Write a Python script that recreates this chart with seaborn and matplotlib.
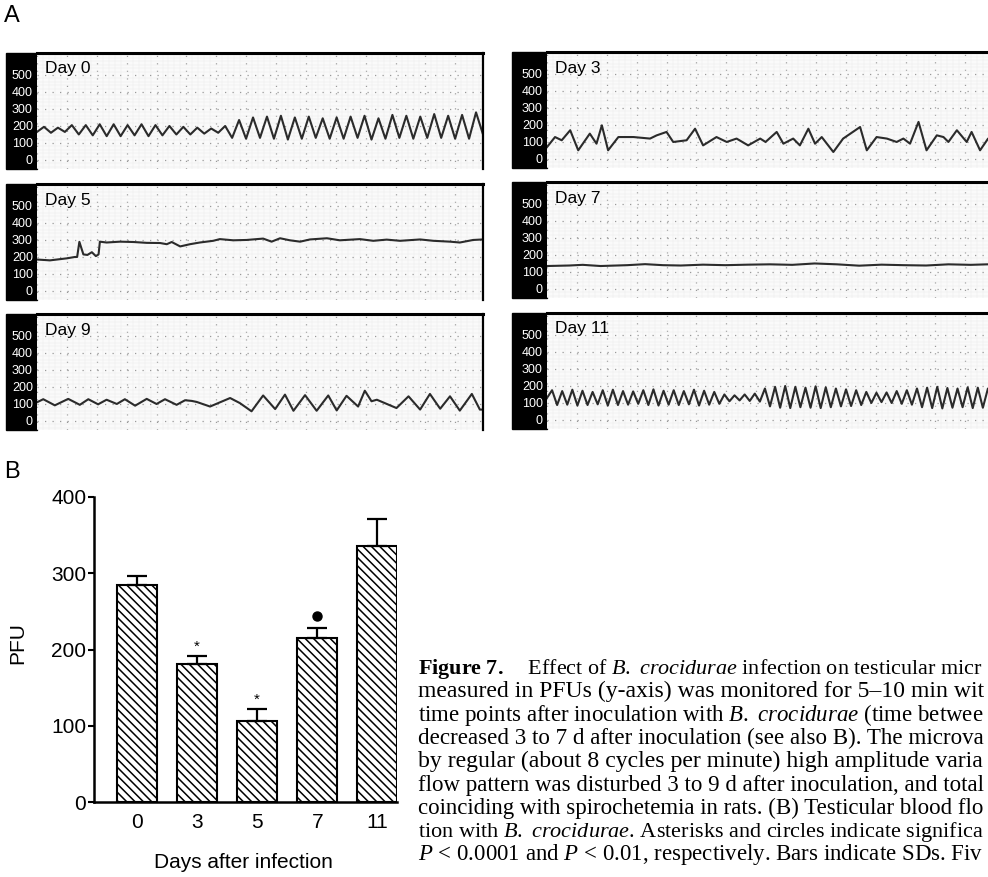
import numpy as np
import pandas as pd
import matplotlib
matplotlib.use("Agg")
import matplotlib.pyplot as plt
import seaborn as sns
from matplotlib.patches import Rectangle

# fonts: sans for the panels, serif for the legend text
plt.rcParams['font.family'] = ['Liberation Sans', 'DejaVu Sans']
plt.rcParams['hatch.linewidth'] = 1.1
plt.rcParams['mathtext.fontset'] = 'custom'
plt.rcParams['mathtext.rm'] = 'Liberation Serif'
plt.rcParams['mathtext.it'] = 'Liberation Serif:italic'
plt.rcParams['mathtext.bf'] = 'Liberation Serif:bold'

# ---- panel A : flow traces (PFU vs % of recording window) ----
day0_v = [165, 195, 160, 190, 165, 205, 150, 205, 145, 210, 140, 210, 140, 205, 145, 210, 140,
          205, 145, 200, 150, 195, 150, 190, 155, 185, 160, 200, 130, 235, 125, 250, 130,
          255, 125, 260, 120, 250, 125, 255, 130, 245, 125, 250, 125, 255, 130, 260, 120,
          245, 125, 265, 130, 260, 125, 255, 130, 270, 130, 260, 125, 265, 125, 280, 150]

day3_t = [0, 1.8, 3.3, 5.2, 7.0, 9.6, 11.1, 12.3, 13.7, 16.0, 19.4, 23.1, 24.6, 26.8, 28.3,
          31.3, 33.2, 35.0, 38.0, 40.3, 42.5, 45.1, 47.8, 49.0, 51.5, 53.0, 55.2, 56.7, 58.6,
          60.1, 61.6, 64.2, 66.4, 70.2, 71.7, 73.9, 76.2, 78.4, 79.9, 81.4, 83.3, 85.1, 87.4,
          88.9, 90.0, 91.9, 94.1, 95.2, 97.1, 98.9, 100]
day3_v = [70, 129, 110, 169, 51, 149, 90, 198, 51, 129, 129, 120, 139, 159, 100,
          110, 178, 80, 129, 100, 120, 80, 120, 100, 159, 90, 120, 80, 178,
          90, 129, 41, 120, 188, 51, 129, 120, 100, 120, 90, 218, 51, 139,
          129, 100, 169, 100, 159, 51, 120, 110]

day5_t = [0, 2.9, 6.7, 8.5, 9.0, 9.5, 10.4, 11.3, 12.3, 13.2, 13.8, 14.1, 15.6, 18.6, 21.6,
          24.6, 27.6, 29.1, 30.2, 32.1, 34.3, 36.5, 39.5, 41.0, 44.0, 47.0, 50.7, 52.6, 54.5,
          56.7, 59.0, 61.2, 65.0, 67.9, 72.4, 75.4, 78.4, 81.4, 85.9, 88.9, 92.6, 94.8, 97.8, 100]
day5_v = [185, 180, 192, 200, 200, 289, 215, 212, 228, 205, 215, 290, 285, 290, 288,
          283, 282, 275, 288, 262, 275, 285, 295, 305, 298, 300, 308, 290, 310,
          298, 290, 303, 310, 298, 305, 295, 302, 295, 303, 295, 290, 285, 300, 303]

day7_t = [0, 5, 8, 12, 18, 22, 26, 30, 35, 40, 45, 50, 55, 60, 65, 70, 75, 80, 85, 90, 95, 100]
day7_v = [135, 138, 142, 135, 140, 146, 140, 138, 143, 140, 143, 145, 142, 150, 145, 137,
          143, 140, 138, 145, 142, 146]

day9_t = [0, 1.4, 4.0, 7.0, 9.6, 11.5, 13.7, 15.6, 17.9, 19.7, 22.0, 24.6, 26.8, 28.7, 31.3,
          33.2, 34.7, 35.8, 38.8, 43.3, 45.5, 48.1, 50.7, 53.4, 55.6, 57.5, 60.1, 62.7, 65.3,
          67.2, 69.4, 72.0, 73.5, 75.0, 76.2, 80.6, 83.3, 85.9, 88.1, 90.4, 92.6, 94.8, 97.5,
          99.3, 100]
day9_v = [110, 128, 92, 130, 95, 128, 98, 125, 100, 128, 90, 130, 100, 128, 95,
          122, 118, 112, 85, 135, 105, 57, 150, 70, 155, 60, 152, 60, 150,
          62, 148, 85, 178, 116, 125, 76, 145, 67, 159, 72, 145, 61, 159,
          67, 67]

day11_v = [130, 175, 88, 170, 90, 178, 85, 172, 88, 165, 92, 175, 85, 178, 88, 170, 90,
           168, 95, 175, 88, 180, 85, 172, 90, 175, 88, 170, 92, 178, 85, 172, 90, 165, 95,
           150, 110, 145, 115, 150, 112, 155, 108,
           185, 80, 195, 72, 200, 70, 195, 75, 190, 72, 198, 70, 192, 75, 185, 80, 180, 82,
           175, 88, 165, 100, 160, 105, 162, 100, 170, 95, 175, 90,
           185, 75, 190, 70, 195, 68, 188, 72, 185, 75, 192, 70, 190, 72, 185, 78]

# ---- panel B : mean PFU and SD ----
days = ["0", "3", "5", "7", "11"]
pfu_mean = [284, 181, 106, 215, 336]
pfu_sd = [13, 10, 16, 13, 35]
marks = ["", "*", "*", "o", ""]

# legend text, as far as it is visible (the page is cut at the right edge)
caption = [
    r"$\mathbf{Figure\ 7.}$    Effect of $\mathit{B.}$ $\mathit{crocidurae}$ infection on testicular micr",
    r"measured in PFUs (y-axis) was monitored for 5–10 min wit",
    r"time points after inoculation with $\mathit{B.}$ $\mathit{crocidurae}$ (time betwee",
    r"decreased 3 to 7 d after inoculation (see also B). The microva",
    r"by regular (about 8 cycles per minute) high amplitude varia",
    r"flow pattern was disturbed 3 to 9 d after inoculation, and total",
    r"coinciding with spirochetemia in rats. (B) Testicular blood flo",
    r"tion with $\mathit{B.}$ $\mathit{crocidurae}$. Asterisks and circles indicate significa",
    r"$\mathit{P}$ < 0.0001 and $\mathit{P}$ < 0.01, respectively. Bars indicate SDs. Fiv",
]

W, H = 988, 877
fig = plt.figure(figsize=(W / 100, H / 100), dpi=100)


def fbox(x0, y0, x1, y1):
    return [x0 / W, 1 - y1 / H, (x1 - x0) / W, (y1 - y0) / H]


def strip_panel(x0, top, strip_w, label, t, v):
    ax = fig.add_axes(fbox(x0, top, x0 + 446, top + 116))
    fig.add_artist(Rectangle(((x0 - strip_w) / W, 1 - (top + 116) / H),
                             strip_w / W, 116 / H, transform=fig.transFigure,
                             color='black', zorder=-1))
    ax.set_facecolor('#fafafa')
    sns.lineplot(x=t, y=v, ax=ax, color='#2b2b2b', lw=1.5, estimator=None, sort=False)
    for ln in ax.lines:
        ln.set_solid_joinstyle('round')
    ax.set_xlim(0, 100)
    ax.set_ylim(-53, 629)
    ax.set_yticks([0, 100, 200, 300, 400, 500])
    ax.set_yticks(np.arange(-40, 629, 20), minor=True)
    ax.set_xticks(np.arange(0, 100, 6.7))
    ax.set_xticks(np.arange(0, 100, 1.34), minor=True)
    ax.tick_params(axis='y', which='both', length=0, pad=3, labelcolor='white', labelsize=9)
    ax.tick_params(axis='x', which='both', length=0, labelbottom=False)
    ax.grid(which='minor', color='#ededed', lw=0.35)
    ax.grid(which='major', color='#9a9a9a', lw=0.9, ls=(0, (1, 5)))
    for s in ['left', 'bottom']:
        ax.spines[s].set_visible(False)
    ax.spines['top'].set_linewidth(2.2)
    ax.spines['right'].set_linewidth(1.6)
    ax.text(8 / 446, 1 - 16 / 116, label, transform=ax.transAxes, fontsize=12.5,
            ha='left', va='center')
    return ax


strip_panel(37, 53, 31, "Day 0", np.linspace(0, 100, len(day0_v)), day0_v)
strip_panel(37, 184, 31, "Day 5", day5_t, day5_v)
strip_panel(37, 314, 31, "Day 9", day9_t, day9_v)
strip_panel(547, 52, 35, "Day 3", day3_t, day3_v)
strip_panel(547, 182, 35, "Day 7", day7_t, day7_v)
strip_panel(547, 313, 35, "Day 11", np.linspace(0, 100, len(day11_v)), day11_v)

fig.text(4 / W, 1 - 16 / H, "A", fontsize=17, ha='left', va='center')
fig.text(4 / W, 1 - 472 / H, "B", fontsize=17, ha='left', va='center')

# ---- panel B bar chart ----
axb = fig.add_axes(fbox(94, 497, 397, 802))
df = pd.DataFrame({"day": days, "pfu": pfu_mean})
sns.barplot(data=df, x="day", y="pfu", order=days, ax=axb, color='white', saturation=1,
            edgecolor='black', linewidth=1.5, width=0.67, hatch='\\\\\\\\', errorbar=None)
axb.errorbar(np.arange(len(days)), pfu_mean, yerr=[np.zeros(len(days)), pfu_sd],
             fmt='none', ecolor='black', elinewidth=1.6, capsize=7, capthick=1.6, zorder=3)
for i, (m, s, mk) in enumerate(zip(pfu_mean, pfu_sd, marks)):
    if mk == "o":
        axb.plot(i, m + s + 16, 'o', color='black', ms=6.5)
    elif mk:
        axb.text(i, m + s + 12, mk, fontsize=11, ha='center', va='center')
axb.set_xlim(-0.72, 4.33)
axb.set_ylim(0, 400)
axb.set_yticks([0, 100, 200, 300, 400])
axb.tick_params(axis='y', length=4.5, width=1.5, pad=1, labelsize=15)
axb.tick_params(axis='x', length=0, pad=8, labelsize=15)
for s in ['top', 'right']:
    axb.spines[s].set_visible(False)
for s in ['left', 'bottom']:
    axb.spines[s].set_linewidth(1.8)
axb.set_xlabel("Days after infection", fontsize=15, va='center')
axb.xaxis.set_label_coords((243 - 94) / 303, (802 - 863) / 305)
axb.set_ylabel("PFU", fontsize=15, va='center')
axb.yaxis.set_label_coords((18 - 94) / 303, (802 - 643) / 305)

# ---- legend text: each line runs to the right edge as in the page ----
renderer = fig.canvas.get_renderer()
for k, line in enumerate(caption):
    txt = fig.text(418 / W, 1 - (674 + 23.3 * k) / H, line, fontsize=16.5,
                   family=['Liberation Serif', 'DejaVu Serif'], ha='left', va='baseline')
    w = txt.get_window_extent(renderer).width
    txt.set_fontsize(min(16.5 * 565 / w, 18))

fig.savefig("out.png", dpi=100)
